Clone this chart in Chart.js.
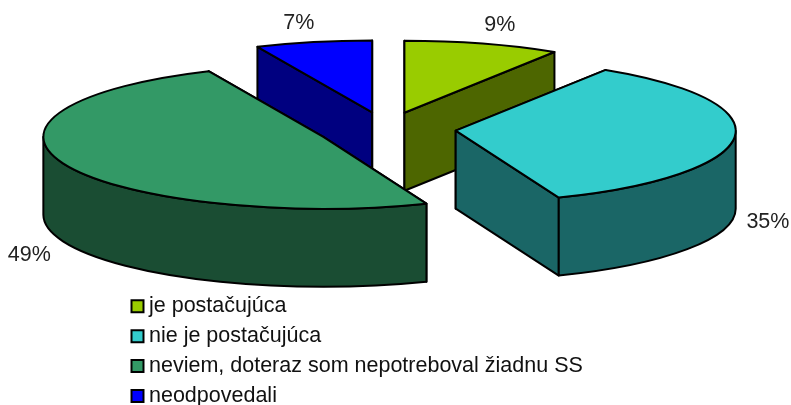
<!DOCTYPE html>
<html><head><meta charset="utf-8">
<style>html,body{margin:0;padding:0;background:#fff;overflow:hidden}canvas{display:block}</style>
<script src="https://cdn.jsdelivr.net/npm/chart.js@4"></script>
</head><body>
<canvas id="c" width="791" height="405"></canvas>
<script>
const categories = ['je postačujúca','nie je postačujúca','neviem, doteraz som nepotreboval žiadnu SS','neodpovedali'];
const shares = [9,35,49.28,6.72];
const topColors = ['#99cc00','#33cccc','#339966','#0000ff'];
const sideColors = ['#4d6600','#1a6666','#1a4d33','#000080'];
const paintOrder = [3,0,1,2];
const explodeBy = [66,70,68,66];
const sink = [0,0,1,0];
const labelReachX = [1.22,1.12,1.14,1.25];
const SQUASH = 0.257, DEPTH = 78, LABEL_REACH_Y = 1.27, LABEL_DROP = 5;
const FONT = '"Liberation Sans", Arial, sans-serif';

function sliceCenter(arc,i){
  const mid=(arc.startAngle+arc.endAngle)/2;
  return {mid,x:arc.x+explodeBy[i]*Math.cos(mid),y:arc.y+explodeBy[i]*Math.sin(mid)*SQUASH+sink[i]};
}
const pie3d = {
  id:'pie3d',
  beforeDraw(chart){
    const l=chart.legend;
    l.left=128.3; l.top=287; l.right=790; l.bottom=480;
  },
  beforeDatasetDraw(chart,args){
    const ctx=chart.ctx, arcs=args.meta.data;
    ctx.save();
    ctx.lineWidth=2; ctx.strokeStyle='#000'; ctx.lineJoin='round';
    paintOrder.forEach(i=>{
      const arc=arcs[i], {x:cx,y:cy}=sliceCenter(arc,i), r=arc.outerRadius, ry=r*SQUASH;
      const a0=arc.startAngle, a1=arc.endAngle;
      ctx.fillStyle=sideColors[i];
      [a0,a1].forEach(a=>{
        const px=cx+r*Math.cos(a), py=cy+ry*Math.sin(a);
        ctx.beginPath();
        ctx.moveTo(cx,cy); ctx.lineTo(px,py); ctx.lineTo(px,py+DEPTH); ctx.lineTo(cx,cy+DEPTH);
        ctx.closePath(); ctx.fill(); ctx.stroke();
      });
      const s=Math.max(a0,0), e=Math.min(a1,Math.PI);
      if(e>s){
        ctx.beginPath();
        ctx.ellipse(cx,cy,r,ry,0,s,e);
        ctx.ellipse(cx,cy+DEPTH,r,ry,0,e,s,true);
        ctx.closePath(); ctx.fill(); ctx.stroke();
      }
      ctx.save();
      ctx.translate(cx,cy); ctx.scale(1,SQUASH); ctx.translate(-arc.x,-arc.y);
      arc.draw(ctx);
      ctx.restore();
      ctx.beginPath();
      ctx.moveTo(cx,cy);
      ctx.ellipse(cx,cy,r,ry,0,a0,a1);
      ctx.closePath(); ctx.stroke();
    });
    ctx.fillStyle='#222'; ctx.font='21.5px '+FONT; ctx.textAlign='center'; ctx.textBaseline='middle';
    arcs.forEach((arc,i)=>{
      const {mid,x,y}=sliceCenter(arc,i), r=arc.outerRadius, s=Math.sin(mid);
      ctx.fillText(Math.round(shares[i])+'%', x+labelReachX[i]*r*Math.cos(mid), y+LABEL_REACH_Y*r*SQUASH*s+(s>0?DEPTH+LABEL_DROP:0));
    });
    ctx.restore();
    return false;
  }
};
new Chart(document.getElementById('c'),{
  type:'pie',
  plugins:[pie3d],
  data:{labels:categories,datasets:[{data:shares,backgroundColor:topColors,borderWidth:0}]},
  options:{
    responsive:false,animation:false,radius:280,
    layout:{padding:{left:0,right:19,top:0,bottom:147}},
    plugins:{
      tooltip:{enabled:false},
      legend:{
        position:'chartArea',align:'start',
        labels:{
          font:{family:FONT,size:21.5},color:'#111',padding:8.45,
          usePointStyle:true,pointStyle:'rect',boxWidth:1.5,boxHeight:12,
          generateLabels(chart){
            return Chart.overrides.pie.plugins.legend.labels.generateLabels(chart)
              .map(it=>Object.assign(it,{lineWidth:2,strokeStyle:'#000'}));
          }
        }
      }
    }
  }
});
</script>
</body></html>
